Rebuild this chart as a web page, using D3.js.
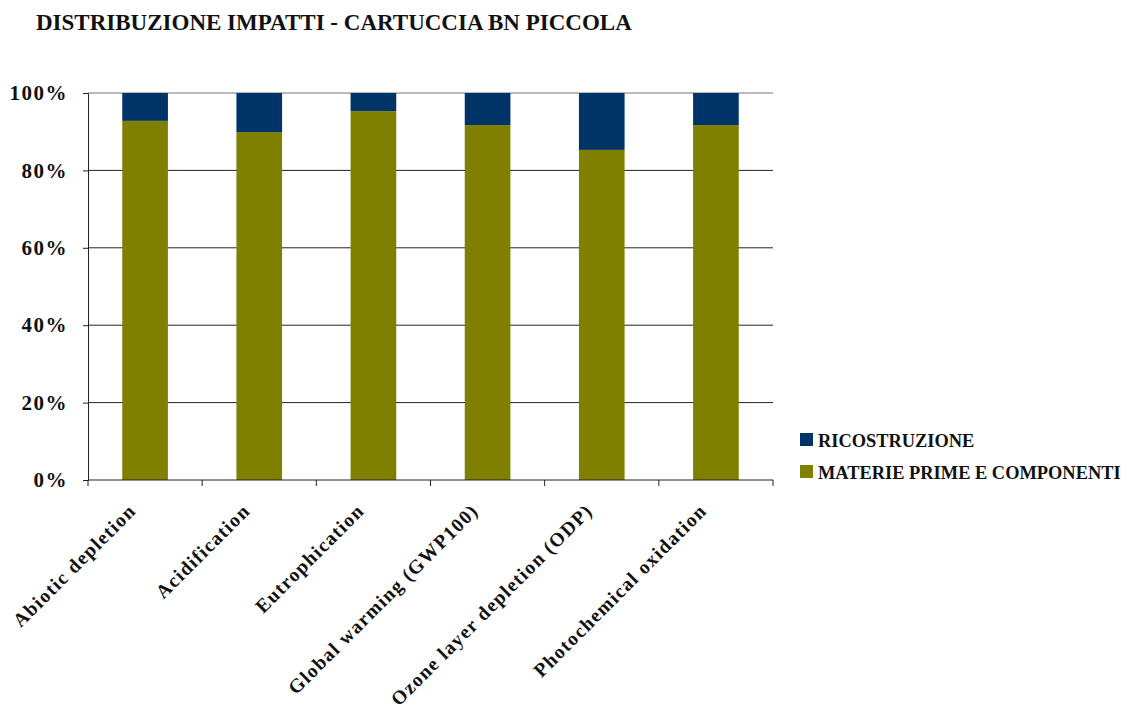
<!DOCTYPE html>
<html><head><meta charset="utf-8">
<script src="https://cdn.jsdelivr.net/npm/d3@7"></script>
<style>body{margin:0;background:#fff}svg{display:block}</style>
</head><body>
<svg id="c" width="1132" height="711"></svg>
<script>
const categories = ["Abiotic depletion","Acidification","Eutrophication","Global warming (GWP100)","Ozone layer depletion (ODP)","Photochemical oxidation"];
const materie = [92.8, 89.9, 95.3, 91.7, 85.3, 91.7];
const ricostruzione = materie.map(v => 100 - v);
const seriesNames = ["RICOSTRUZIONE","MATERIE PRIME E COMPONENTI"];
const yTicks = [0,20,40,60,80,100];

const svg = d3.select("#c");
const font = "'Liberation Serif', serif";
const m = {l:88, r:773, t:93, b:480};
const x = d3.scaleBand().domain(categories).range([m.l, m.r]).paddingInner(0.6).paddingOuter(0.3);
const xs = d3.scaleBand().domain(categories).range([m.l, m.r]);
const y = d3.scaleLinear().domain([0,100]).range([m.b, m.t]);

svg.append("text").attr("x",36).attr("y",30).attr("font-family",font).attr("font-weight","bold")
  .attr("font-size",23).attr("fill","#111").text("DISTRIBUZIONE IMPATTI - CARTUCCIA BN PICCOLA");

// grid
svg.append("g").selectAll("line").data(yTicks.filter(d=>d>0)).join("line")
  .attr("x1",m.l).attr("x2",m.r).attr("y1",d=>y(d)).attr("y2",d=>y(d))
  .attr("stroke",(d)=>d===100?"#777":"#222").attr("stroke-width",1);

// bars
const data = categories.map((c,i)=>({c, a:materie[i], b:ricostruzione[i]}));
svg.append("g").selectAll("rect").data(data).join("rect")
  .attr("x",d=>x(d.c)).attr("width",x.bandwidth()).attr("y",d=>y(d.a)).attr("height",d=>y(0)-y(d.a)).attr("fill","#808000");
svg.append("g").selectAll("rect").data(data).join("rect")
  .attr("x",d=>x(d.c)).attr("width",x.bandwidth()).attr("y",d=>y(d.a+d.b)).attr("height",d=>y(d.a)-y(d.a+d.b)).attr("fill","#003366");

// y axis
const ya = svg.append("g").attr("transform",`translate(${m.l},0)`)
  .call(d3.axisLeft(y).tickValues(yTicks).tickFormat(d=>d+"%").tickSize(5).tickPadding(15));
ya.select(".domain").attr("stroke","#222");
ya.selectAll(".tick line").attr("stroke","#222");
ya.selectAll("text").attr("font-family",font).attr("font-weight","bold").attr("font-size",21).attr("letter-spacing","1.5px").attr("fill","#111");

// x axis
const xa = svg.append("g").attr("transform",`translate(0,${m.b})`);
xa.append("line").attr("x1",m.l).attr("x2",m.r).attr("stroke","#222");
const bounds = categories.map(c=>xs(c)).concat([m.r]);
xa.selectAll("line.t").data(bounds).join("line").attr("class","t")
  .attr("x1",d=>d).attr("x2",d=>d).attr("y1",0).attr("y2",6).attr("stroke","#222");
xa.selectAll("text").data(categories).join("text")
  .attr("transform",d=>`translate(${xs(d)+xs.bandwidth()/2-8},${32}) rotate(-45)`)
  .attr("text-anchor","end").attr("font-family",font).attr("font-weight","bold")
  .attr("font-size",19.5).attr("letter-spacing","1.3px").attr("fill","#111").text(d=>d);

// legend
const colors = ["#003366","#808000"];
const lg = svg.append("g");
seriesNames.forEach((n,i)=>{
  lg.append("rect").attr("x",800).attr("y",433+i*32).attr("width",13).attr("height",13).attr("fill",colors[i]);
  lg.append("text").attr("x",818).attr("y",447+i*32).attr("font-family",font).attr("font-weight","bold")
    .attr("font-size",18.4).attr("fill","#111").text(n);
});
</script>
</body></html>
